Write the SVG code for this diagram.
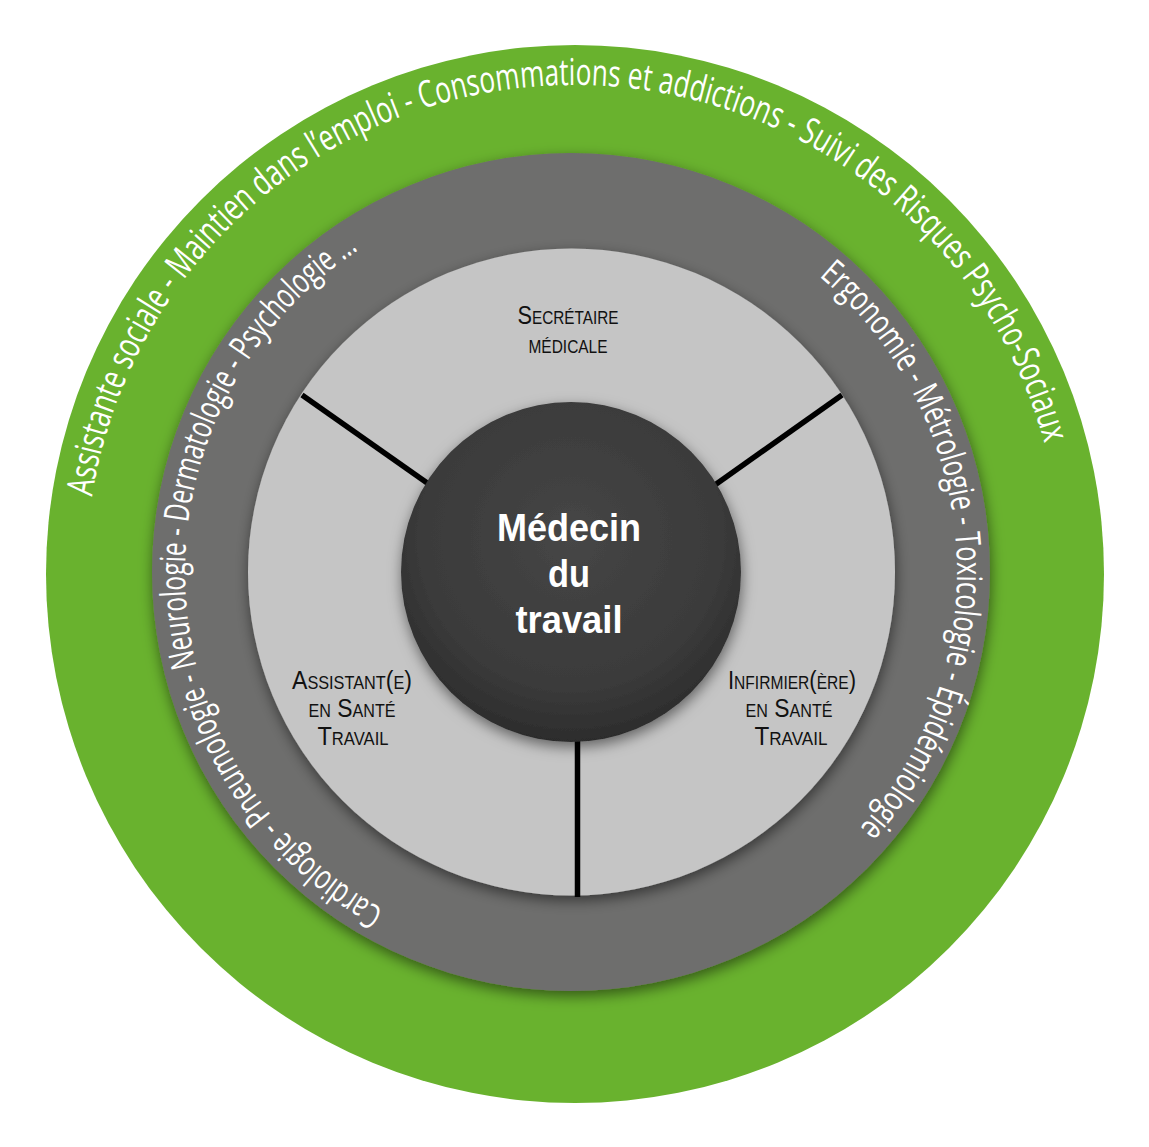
<svg xmlns="http://www.w3.org/2000/svg" width="1149" height="1147" viewBox="0 0 1149 1147">
  <style>
    .ring-text { fill: #ffffff; font-family: "Open Sans", "Liberation Sans", sans-serif; font-weight: 400; }
    .outer { font-size: 37px; }
    .inner { font-size: 35px; }
    .label { fill: #111111; font-family: "Liberation Sans", Arial, sans-serif; font-weight: 400; font-size: 25.5px; font-variant: small-caps; text-anchor: middle; }
    .center-label { fill: #ffffff; font-family: "Liberation Sans", Arial, sans-serif; font-weight: 700; font-size: 38px; text-anchor: middle; }
    .connector { stroke: #000000; stroke-width: 5.5; fill: none; }
  </style>
  <defs>
    <filter id="shadow" x="-10%" y="-10%" width="120%" height="120%">
      <feDropShadow dx="1" dy="5" stdDeviation="7" flood-color="#000000" flood-opacity="0.5"/>
    </filter>
    <radialGradient id="darkGrad" cx="50%" cy="40%" r="60%">
      <stop offset="0" stop-color="#464646"/>
      <stop offset="0.75" stop-color="#3a3a3a"/>
      <stop offset="1" stop-color="#2c2c2c"/>
    </radialGradient>
    <path id="arcOuter" d="M 92.0 496.7 A 488 488 0 0 1 1045.4 446.7"/>
    <path id="arcLeft" d="M 383.9 909.6 A 386 386 0 0 1 360.8 248.3"/>
    <path id="arcRight" d="M 819.1 276.3 A 386 386 0 0 1 857.8 830.3"/>
  </defs>

  <g id="outer-ring">
    <circle cx="575" cy="574" r="529" fill="#69b22e"/>
    <text class="ring-text outer"><textPath href="#arcOuter" startOffset="0" textLength="528.8" lengthAdjust="spacingAndGlyphs">Assistante sociale - Maintien dans l’emploi -</textPath></text>
    <text class="ring-text outer"><textPath href="#arcOuter" startOffset="535.6" textLength="379.2" lengthAdjust="spacingAndGlyphs">Consommations et addictions -</textPath></text>
    <text class="ring-text outer"><textPath href="#arcOuter" startOffset="921.6" textLength="403.4" lengthAdjust="spacingAndGlyphs">Suivi des Risques Psycho-Sociaux</textPath></text>
  </g>

  <g id="middle-ring">
    <circle cx="571" cy="572" r="419" fill="#6e6e6d" filter="url(#shadow)"/>
    <text class="ring-text inner"><textPath href="#arcLeft" startOffset="0" textLength="141.4" lengthAdjust="spacingAndGlyphs">Cardiologie -</textPath></text>
    <text class="ring-text inner"><textPath href="#arcLeft" startOffset="147.7" textLength="306.3" lengthAdjust="spacingAndGlyphs">Pneumologie - Neurologie -</textPath></text>
    <text class="ring-text inner"><textPath href="#arcLeft" startOffset="460.3" textLength="331.7" lengthAdjust="spacingAndGlyphs">Dermatologie - Psychologie ...</textPath></text>
    <text class="ring-text inner"><textPath href="#arcRight" startOffset="0" textLength="291.0" lengthAdjust="spacingAndGlyphs">Ergonomie - Métrologie -</textPath></text>
    <text class="ring-text inner"><textPath href="#arcRight" startOffset="297.6" textLength="146.5" lengthAdjust="spacingAndGlyphs">Toxicologie -</textPath></text>
    <text class="ring-text inner"><textPath href="#arcRight" startOffset="450.7" textLength="166.3" lengthAdjust="spacingAndGlyphs">Épidémiologie</textPath></text>
  </g>

  <g id="inner-disc">
    <circle cx="571.5" cy="572" r="323.5" fill="#c5c5c5" filter="url(#shadow)"/>
  </g>

  <g id="connectors">
    <line class="connector" x1="302" y1="395" x2="440" y2="492"/>
    <line class="connector" x1="842" y1="395" x2="705" y2="492"/>
    <line class="connector" x1="577.5" y1="720" x2="577.5" y2="897"/>
  </g>

  <g id="center-node">
    <circle cx="571" cy="572" r="170" fill="url(#darkGrad)" filter="url(#shadow)"/>
    <text class="center-label" x="569" y="541" textLength="144" lengthAdjust="spacingAndGlyphs">Médecin</text>
    <text class="center-label" x="569" y="587" textLength="42" lengthAdjust="spacingAndGlyphs">du</text>
    <text class="center-label" x="569" y="633" textLength="107" lengthAdjust="spacingAndGlyphs">travail</text>
  </g>

  <g id="node-secretaire">
    <text class="label" x="568" y="324" textLength="101" lengthAdjust="spacingAndGlyphs">Secrétaire</text>
    <text class="label" x="568" y="353" textLength="79" lengthAdjust="spacingAndGlyphs">médicale</text>
  </g>

  <g id="node-assistant">
    <text class="label" x="352" y="689" textLength="120" lengthAdjust="spacingAndGlyphs">Assistant(e)</text>
    <text class="label" x="352" y="717" textLength="87" lengthAdjust="spacingAndGlyphs">en Santé</text>
    <text class="label" x="353" y="745" textLength="71" lengthAdjust="spacingAndGlyphs">Travail</text>
  </g>

  <g id="node-infirmier">
    <text class="label" x="792" y="689" textLength="128" lengthAdjust="spacingAndGlyphs">Infirmier(ère)</text>
    <text class="label" x="789" y="717" textLength="87" lengthAdjust="spacingAndGlyphs">en Santé</text>
    <text class="label" x="791" y="745" textLength="73" lengthAdjust="spacingAndGlyphs">Travail</text>
  </g>
</svg>
